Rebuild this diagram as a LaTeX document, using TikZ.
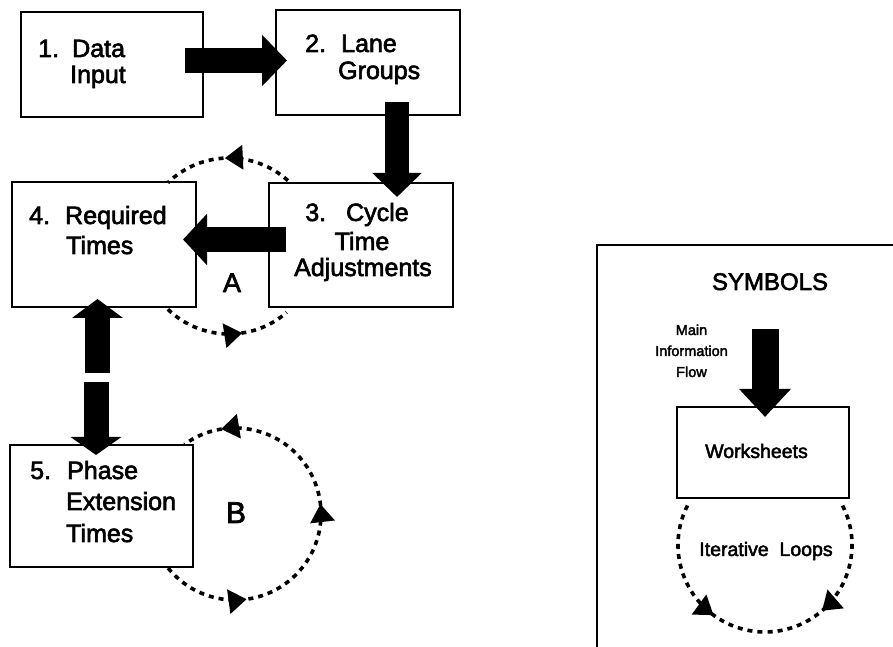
\documentclass[tikz,border=0pt]{standalone}
\usepackage{fontspec}
\setmainfont{Liberation Sans}
\newfontfamily\thickfont[FakeBold=2.5]{Liberation Sans}
\usetikzlibrary{arrows.meta,decorations.markings}
\tikzset{
  box/.style={draw, line width=1.4pt, inner sep=0pt},
  txt/.style={font=\fontsize{25}{30}\selectfont\thickfont, inner sep=0pt, anchor=base west},
  ctxt/.style={font=\fontsize{25}{30}\selectfont\thickfont, inner sep=0pt, anchor=base},
  dloop/.style={line width=3.6pt, dash pattern=on 5pt off 5pt},
  >={Triangle[length=18pt,width=24pt]},
  mk/.style={postaction={decorate}, decoration={markings, mark=at position #1 with {\arrow{>}}}},
}
\begin{document}
\begin{tikzpicture}[x=1pt,y=1pt]
\useasboundingbox (0,0) rectangle (893,647);
% boxes
\node[box, minimum width=182pt, minimum height=105pt] (b1) at (112,582.5) {};
\node[box, minimum width=184pt, minimum height=105pt] (b2) at (368,584.5) {};
\node[box, minimum width=184pt, minimum height=124pt] (b3) at (361,402) {};
\node[box, minimum width=184pt, minimum height=125pt] (b4) at (104,402.5) {};
\node[box, minimum width=183pt, minimum height=122pt] (b5) at (101.5,141) {};
% texts
\node[txt] (n1) at (38,590) {1.};
\node[txt] (t1a) at (72,590) {Data};
\node[txt] (t1b) at (70,564) {Input};
\node[txt] (n2) at (305,595) {2.};
\node[txt] (t2a) at (341,595) {Lane};
\node[txt] (t2b) at (338,568) {Groups};
\node[ctxt] (t3a) at (357,426) {3.\hspace{0.8em}Cycle};
\node[ctxt] (t3b) at (362,397) {Time};
\node[ctxt] (t3c) at (363,371) {Adjustments};
\node[txt] (n4) at (29,423) {4.};
\node[txt] (t4a) at (65,423) {Required};
\node[txt] (t4b) at (66,393) {Times};
\node[txt] (n5) at (30,168) {5.};
\node[txt] (t5a) at (67,168) {Phase};
\node[txt] (t5b) at (66,137) {Extension};
\node[txt] (t5c) at (66,105) {Times};
\node[ctxt, font=\fontsize{27}{30}\selectfont\thickfont] (lA) at (232,355) {A};
\node[ctxt, font=\fontsize{30}{30}\selectfont\thickfont] (lB) at (236,124) {B};
% main flow arrows
\coordinate (a12s) at (185,586.5); \coordinate (a12e) at (287,586.5);
\coordinate (a23s) at (397,545);   \coordinate (a23e) at (397,450);
\coordinate (a34s) at (286,407.5); \coordinate (a34e) at (183,407.5);
\coordinate (a45s) at (97.5,274);  \coordinate (a45e) at (97.5,348);
\coordinate (a54s) at (96,265);    \coordinate (a54e) at (96,192);
\draw[line width=25pt, -{Triangle[width=50pt,length=25pt]}] (a12s) -- (a12e);
\draw[line width=24pt, -{Triangle[width=48pt,length=24pt]}] (a23s) -- (a23e);
\draw[line width=25pt, -{Triangle[width=50pt,length=24pt]}] (a34s) -- (a34e);
\draw[line width=25pt, -{Triangle[width=50pt,length=19pt]}] (a45s) -- (a45e);
\draw[line width=25pt, -{Triangle[width=50pt,length=18pt]}] (a54s) -- (a54e);
% iterative loop A
\coordinate (cA) at (229,401);
\draw[dloop, mk=0.52] ([shift={(48:88)}]cA) arc[start angle=48, end angle=134, radius=88];
\draw[dloop, mk=0.62] ([shift={(226:88)}]cA) arc[start angle=226, end angle=311, radius=88];
% iterative loop B
\coordinate (cB) at (235,133);
\draw[dloop, postaction={decorate}, decoration={markings,
   mark=at position 0.22 with {\arrow{>}},
   mark=at position 0.553 with {\arrow{>}},
   mark=at position 0.9 with {\arrow{>}}}]
   ([shift={(219:86)}]cB) arc[start angle=219, end angle=486, radius=86];
% symbols legend
\draw[line width=1.4pt] (597,0) -- (597,402) -- (893,402);
\node[ctxt, font=\fontsize{24}{28}\selectfont\thickfont] (sym) at (770,357) {SYMBOLS};
\node[font=\fontsize{14.5}{21}\selectfont\thickfont, align=center, inner sep=0pt, anchor=base] (mif) at (691.5,270) {Main\\Information\\Flow};
\node[box, minimum width=172pt, minimum height=91pt] (ws) at (763,194.5) {};
\node[ctxt, font=\fontsize{19.5}{24}\selectfont\thickfont] (wst) at (756.5,189) {Worksheets};
\node[ctxt, font=\fontsize{19.5}{24}\selectfont\thickfont] (ilt) at (766,91) {Iterative\ \ Loops};
\coordinate (asS) at (765,318); \coordinate (asE) at (765,230);
\draw[line width=27pt, -{Triangle[width=50pt,length=28pt]}] (asS) -- (asE);
\coordinate (cS) at (765,102);
\draw[dloop, mk=0.69] ([shift={(153:87)}]cS) arc[start angle=153, end angle=270, radius=87];
\draw[dloop, mk=0.65] ([shift={(27:87)}]cS) arc[start angle=27, end angle=-90, radius=87];
\end{tikzpicture}
\end{document}
